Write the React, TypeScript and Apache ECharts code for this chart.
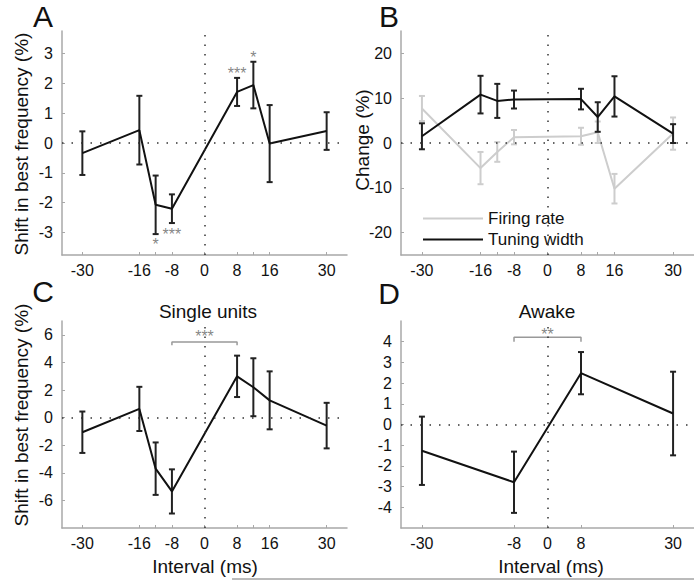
import React, { useEffect, useRef } from "react";
import * as echarts from "echarts";

const FONT = "'Liberation Sans', Arial, sans-serif";

// Tick labels
const X_LABELS = [-30, -16, -8, 0, 8, 16, 30];
const X_TICKS = [-30, -16, -12, -8, 0, 8, 12, 16, 30];
const XD_LABELS = [-30, -8, 0, 8, 30];
const YA_LABELS = [-3, -2, -1, 0, 1, 2, 3];
const YB_LABELS = [-20, -10, 0, 10, 20];
const YC_LABELS = [-6, -4, -2, 0, 2, 4, 6];
const YD_LABELS = [-4, -3, -2, -1, 0, 1, 2, 3, 4];

// Intervals (ms)
const INTERVALS = [-30, -16, -12, -8, 8, 12, 16, 30];
const INTERVALS_D = [-30, -8, 8, 30];

// Panel A: shift in best frequency (%)
const A_MEAN = [-0.34, 0.43, -2.07, -2.2, 1.71, 1.94, -0.02, 0.4];
const A_ERR = [0.73, 1.15, 0.98, 0.48, 0.47, 0.78, 1.29, 0.63];

// Panel B: change (%)
const B_FR = [7.7, -5.6, -2.0, 1.3, 1.5, 2.4, -10.2, 2.1];
const B_FR_ERR = [2.8, 3.6, 2.2, 1.6, 1.9, 2.4, 3.3, 3.6];
const B_TW = [1.5, 10.8, 9.4, 9.7, 9.8, 5.8, 10.4, 2.1];
const B_TW_ERR = [2.9, 4.2, 3.8, 2.0, 2.3, 3.3, 4.5, 2.1];

// Panel C: single units
const C_MEAN = [-1.06, 0.63, -3.7, -5.35, 2.99, 2.2, 1.25, -0.58];
const C_ERR = [1.5, 1.6, 1.9, 1.6, 1.5, 2.1, 2.1, 1.65];

// Panel D: awake
const D_MEAN = [-1.27, -2.79, 2.48, 0.53];
const D_ERR = [1.65, 1.48, 1.02, 2.02];

// Significance marks
const A_STARS = [
  { x: -12, y: -3.29, text: "*" },
  { x: -8, y: -2.95, text: "***" },
  { x: 8, y: 2.44, text: "***" },
  { x: 12, y: 2.97, text: "*" },
];
const C_BRACKET = { from: -8, to: 8, top: 5.47, foot: 5.25, starY: 6.1, text: "***" };
const D_BRACKET = { from: -8, to: 8, top: 4.21, foot: 4.0, starY: 4.5, text: "**" };

const AXIS_COLOR = "#a8a8a8";

function xAxis(gridIndex: number, labels: number[], ticks: number[], margin: number) {
  return {
    type: "value",
    gridIndex,
    min: -35,
    max: 35,
    axisLine: { onZero: false, lineStyle: { color: AXIS_COLOR, width: 1.5 } },
    axisTick: { show: true, inside: true, length: 3, customValues: ticks, lineStyle: { color: AXIS_COLOR } },
    axisLabel: { customValues: labels, color: "#111", fontSize: 16, fontFamily: FONT, margin },
    splitLine: { show: false },
  };
}

function yAxis(gridIndex: number, min: number, max: number, labels: number[]) {
  return {
    type: "value",
    gridIndex,
    min,
    max,
    axisLine: { show: true, onZero: false, lineStyle: { color: AXIS_COLOR, width: 1.5 } },
    axisTick: { show: true, inside: true, length: 3, customValues: labels, lineStyle: { color: AXIS_COLOR } },
    axisLabel: { customValues: labels, color: "#111", fontSize: 16, fontFamily: FONT, margin: 9 },
    splitLine: { show: false },
  };
}

function pairs(xs: number[], ys: number[]) {
  return xs.map((x, i) => [x, ys[i]]);
}

function errData(xs: number[], ys: number[], es: number[]) {
  return xs.map((x, i) => [x, ys[i] - es[i], ys[i] + es[i]]);
}

function errSeries(idx: number, name: string, data: number[][], color: string, z = 3) {
  return {
    type: "custom",
    name,
    xAxisIndex: idx,
    yAxisIndex: idx,
    z,
    encode: { x: 0, y: [1, 2] },
    data,
    renderItem: (params: any, api: any) => {
      const x = api.value(0);
      const lo = api.coord([x, api.value(1)]);
      const hi = api.coord([x, api.value(2)]);
      const w = 3;
      const style = { stroke: color, lineWidth: 2 };
      return {
        type: "group",
        children: [
          { type: "line", shape: { x1: lo[0], y1: lo[1], x2: hi[0], y2: hi[1] }, style },
          { type: "line", shape: { x1: lo[0] - w, y1: lo[1], x2: lo[0] + w, y2: lo[1] }, style },
          { type: "line", shape: { x1: hi[0] - w, y1: hi[1], x2: hi[0] + w, y2: hi[1] }, style },
        ],
      };
    },
  };
}

const zeroMarks = {
  silent: true,
  symbol: ["none", "none"],
  label: { show: false },
  lineStyle: { type: [1.5, 8], color: "#333", width: 1.5 },
  data: [{ xAxis: 0 }, { yAxis: 0 }],
};

function meanSeries(idx: number, name: string, data: number[][], color: string, withZero: boolean, z = 4) {
  return {
    type: "line",
    name,
    xAxisIndex: idx,
    yAxisIndex: idx,
    z,
    data,
    symbol: "none",
    lineStyle: { color, width: 2 },
    itemStyle: { color },
    markLine: withZero ? zeroMarks : undefined,
  };
}

function starSeries(idx: number, name: string, stars: { x: number; y: number; text: string }[]) {
  return {
    type: "scatter",
    name,
    xAxisIndex: idx,
    yAxisIndex: idx,
    symbolSize: 1,
    itemStyle: { color: "rgba(0,0,0,0)" },
    data: stars.map((s) => ({ value: [s.x, s.y], name: s.text })),
    label: {
      show: true,
      position: "inside",
      formatter: (p: any) => p.name,
      color: "#666",
      fontSize: 16,
      fontFamily: FONT,
      offset: [0, 3],
    },
  };
}

function bracketSeries(idx: number, name: string, b: typeof C_BRACKET) {
  return [
    {
      type: "line",
      name,
      xAxisIndex: idx,
      yAxisIndex: idx,
      symbol: "none",
      lineStyle: { color: "#999", width: 1.5 },
      data: [
        [b.from, b.foot],
        [b.from, b.top],
        [b.to, b.top],
        [b.to, b.foot],
      ],
    },
    starSeries(idx, name + " stars", [{ x: (b.from + b.to) / 2, y: b.starY, text: b.text }]),
  ];
}

function txt(text: string, x: number, y: number, fontSize: number, rotate = 0) {
  return {
    type: "text",
    x,
    y,
    rotation: rotate,
    style: {
      text,
      fontSize,
      fontFamily: FONT,
      fill: "#111",
      align: "center",
      verticalAlign: "middle",
    },
  };
}

export default function App() {
  const ref = useRef<HTMLDivElement>(null);
  useEffect(() => {
    if (!ref.current) return;
    const chart = echarts.init(ref.current, undefined, { renderer: "svg" });
    const option = {
      animation: false,
      backgroundColor: "#fff",
      grid: [
        { left: 62, top: 31, width: 285, height: 224 },
        { left: 401, top: 31, width: 293, height: 224 },
        { left: 62, top: 321, width: 285, height: 207 },
        { left: 401, top: 321, width: 293, height: 207 },
      ],
      xAxis: [
        xAxis(0, X_LABELS, X_TICKS, 7),
        xAxis(1, X_LABELS, X_TICKS, 7),
        xAxis(2, X_LABELS, X_TICKS, 7),
        xAxis(3, XD_LABELS, XD_LABELS, 7),
      ],
      yAxis: [
        yAxis(0, -3.75, 3.75, YA_LABELS),
        yAxis(1, -25, 25, YB_LABELS),
        yAxis(2, -8, 7, YC_LABELS),
        yAxis(3, -5, 5, YD_LABELS),
      ],
      legend: {
        data: ["Firing rate", "Tuning width"],
        orient: "vertical",
        left: 418,
        top: 205,
        icon: "rect",
        itemWidth: 60,
        itemHeight: 2,
        itemGap: 4,
        selectedMode: false,
        textStyle: { fontSize: 17, fontFamily: FONT, color: "#111", lineHeight: 17 },
      },
      series: [
        // A
        errSeries(0, "A error", errData(INTERVALS, A_MEAN, A_ERR), "#222"),
        meanSeries(0, "A shift", pairs(INTERVALS, A_MEAN), "#111", true),
        starSeries(0, "A stars", A_STARS),
        // B
        errSeries(1, "FR error", errData(INTERVALS, B_FR, B_FR_ERR), "#cdcdcd", 2),
        meanSeries(1, "Firing rate", pairs(INTERVALS, B_FR), "#cdcdcd", true, 2),
        errSeries(1, "TW error", errData(INTERVALS, B_TW, B_TW_ERR), "#222", 4),
        meanSeries(1, "Tuning width", pairs(INTERVALS, B_TW), "#111", false, 5),
        // C
        errSeries(2, "C error", errData(INTERVALS, C_MEAN, C_ERR), "#222"),
        meanSeries(2, "C shift", pairs(INTERVALS, C_MEAN), "#111", true),
        ...bracketSeries(2, "C bracket", C_BRACKET),
        // D
        errSeries(3, "D error", errData(INTERVALS_D, D_MEAN, D_ERR), "#222"),
        meanSeries(3, "D shift", pairs(INTERVALS_D, D_MEAN), "#111", true),
        ...bracketSeries(3, "D bracket", D_BRACKET),
      ],
      graphic: [
        txt("A", 43, 16, 30),
        txt("B", 389, 16, 30),
        txt("C", 43, 291, 30),
        txt("D", 389, 293, 30),
        txt("Shift in best frequency (%)", 21, 144, 19, Math.PI / 2),
        txt("Change (%)", 362, 140, 19, Math.PI / 2),
        txt("Shift in best frequency (%)", 21, 415, 19, Math.PI / 2),
        txt("Single units", 208, 311, 19),
        txt("Awake", 547, 311, 19),
        txt("Interval (ms)", 205, 566, 19),
        txt("Interval (ms)", 551, 566, 19),
        {
          type: "line",
          shape: { x1: 232, y1: 579, x2: 694, y2: 579 },
          style: { stroke: "#777", lineWidth: 1 },
        },
      ],
    };
    chart.setOption(option as any);
    return () => chart.dispose();
  }, []);
  return (
    <div
      ref={ref}
      style={{ position: "absolute", left: 0, top: 0, width: 694, height: 580 }}
    />
  );
}
